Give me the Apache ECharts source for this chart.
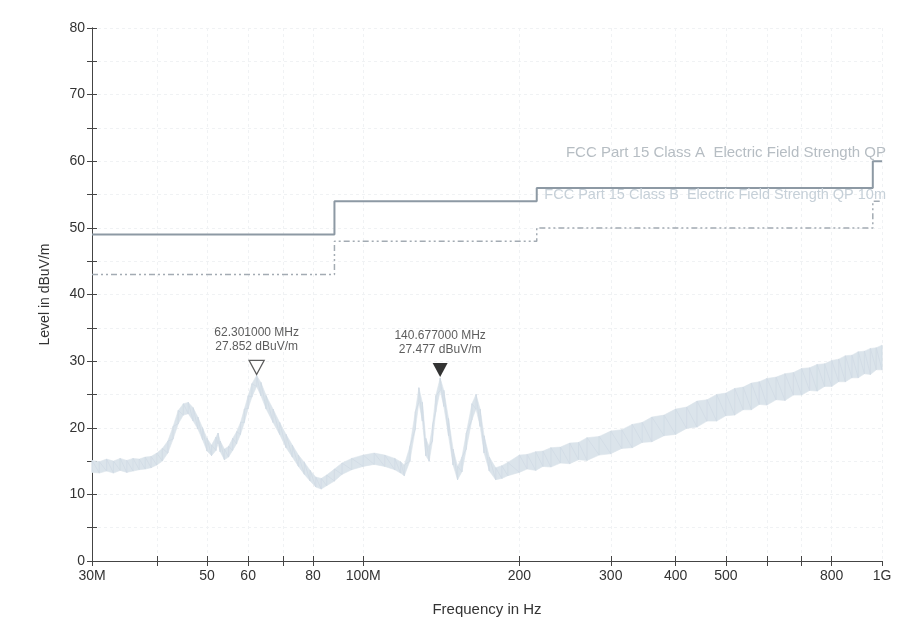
<!DOCTYPE html>
<html>
<head>
<meta charset="utf-8">
<script src="https://cdn.jsdelivr.net/npm/echarts@6/dist/echarts.min.js"></script>
<style>
  html, body { margin: 0; padding: 0; background: #fff; }
  #chart { width: 902px; height: 625px; }
</style>
</head>
<body>
<div id="chart"></div>
<script>
// measured trace (MHz / dBuV/m), lower and upper edge of the noisy band
const traceFreq = [30, 31, 32, 33, 34, 35, 36, 37, 38, 39, 40, 41, 42, 43, 44, 45, 46, 47, 48, 49,
  50, 51, 52, 52.5, 53, 54, 55, 56, 57, 58, 59, 60, 61, 62.3, 63.5, 65, 67, 69, 71, 73,
  75, 77, 79, 81, 83, 85, 88, 91, 95, 100, 105, 110, 115, 118, 120, 123, 126, 128, 130, 132,
  134, 136, 138, 140.7, 143, 146, 149, 152, 155, 158, 162, 165, 168, 171, 175, 180, 185, 190,
  200, 207, 215, 222, 230, 240, 250, 260, 270, 285, 300, 315, 330, 345, 360, 380, 400, 420, 440,
  460, 480, 500, 520, 540, 560, 580, 600, 625, 650, 675, 700, 725, 750, 775, 800, 825, 850, 875,
  900, 925, 950, 975, 1000];
const traceLow = [13.3, 13.2, 13.5, 13.2, 13.6, 13.3, 13.5, 13.7, 13.8, 14.0, 14.4, 15.0, 16.2, 18.3, 20.6, 21.9, 22.1, 21.0, 19.8, 18.2,
  16.5, 15.8, 16.6, 17.6, 16.4, 15.2, 15.6, 16.6, 17.6, 19.0, 20.8, 22.9, 24.6, 26.2, 24.8, 22.8, 20.8, 19.0, 17.0, 15.6,
  14.2, 13.0, 12.0, 11.1, 10.8, 11.3, 12.0, 13.0, 13.7, 14.2, 14.5, 14.2, 13.7, 13.2, 12.8, 15.0, 19.8, 23.8, 21.0, 15.8,
  15.0, 18.0, 22.4, 25.6, 23.2, 18.8, 14.4, 12.2, 13.4, 16.8, 21.2, 22.8, 20.2, 16.2, 13.5, 12.2, 12.4, 12.8,
  13.3, 13.8, 13.6, 14.2, 14.1, 14.7, 14.6, 15.2, 15.1, 15.9, 16.1, 16.9, 17.0, 17.8, 17.9, 18.8, 19.0, 19.9, 20.1,
  21.0, 21.0, 21.8, 21.9, 22.7, 22.7, 23.5, 23.4, 24.2, 24.1, 24.9, 24.9, 25.6, 25.5, 26.2, 26.2, 26.9, 26.9, 27.5,
  27.5, 28.1, 28.0, 28.7, 28.7];
const traceHigh = [15.1, 14.9, 15.3, 15.0, 15.4, 15.1, 15.4, 15.3, 15.6, 15.7, 16.2, 16.9, 18.0, 20.2, 22.6, 23.6, 23.8, 23.0, 21.6, 20.0,
  18.4, 17.4, 18.6, 19.2, 18.0, 16.8, 17.2, 18.4, 19.4, 20.8, 22.8, 24.8, 26.6, 27.85, 26.8, 24.8, 22.8, 20.8, 19.0, 17.4,
  15.9, 14.8, 13.6, 12.6, 12.4, 12.9, 13.8, 14.7, 15.4, 15.9, 16.2, 15.9, 15.4, 14.9, 14.4, 17.2, 22.4, 26.0, 23.8, 18.4,
  17.2, 20.4, 24.8, 27.48, 25.6, 21.4, 16.8, 14.2, 15.6, 19.2, 23.6, 25.0, 22.8, 18.8, 15.6, 14.0, 14.3, 14.8,
  15.9, 16.0, 16.4, 16.5, 17.0, 17.1, 17.7, 17.8, 18.5, 18.7, 19.5, 19.7, 20.5, 20.8, 21.6, 21.9, 22.8, 23.1, 24.0,
  24.2, 25.0, 25.2, 25.9, 26.1, 26.7, 26.9, 27.4, 27.6, 28.1, 28.3, 28.9, 29.0, 29.5, 29.6, 30.1, 30.3, 30.8, 30.9,
  31.4, 31.5, 31.9, 32.0, 32.4];

// FCC limit lines (step at each frequency)
const limitFreq = [30, 88, 216, 960, 1000];
const classA = [49, 54, 56, 60, 60];
const classB = [43, 48, 50, 54, 54];

// peak markers
const markerFreq = [62.301, 140.677];
const markerLevel = [27.852, 27.477];
const markerHollow = [true, false];

// axis ticks
const xTickFreq = [40, 50, 60, 70, 80, 100, 200, 300, 400, 500, 600, 700, 800];
const xLabelFreq = [30, 50, 60, 80, 100, 200, 300, 400, 500, 800, 1000];
const xLabelText = ['30M', '50', '60', '80', '100M', '200', '300', '400', '500', '800', '1G'];

const lg = f => Math.log10(f);
const FONT = '"Liberation Sans", Arial, sans-serif';

let zigzag = [];
traceFreq.forEach((f, i) => {
  zigzag.push([lg(f), traceLow[i]]);
  zigzag.push([lg(f), traceHigh[i]]);
});

function xLabel(v) {
  for (let i = 0; i < xLabelFreq.length; i++) {
    if (Math.abs(lg(xLabelFreq[i]) - v) < 1e-6) return xLabelText[i];
  }
  return '';
}

// band between low and high edge, one quad per segment
function renderBand(params, api) {
  let i = params.dataIndex;
  if (i >= traceFreq.length - 1) return;
  let pts = [
    api.coord([lg(traceFreq[i]), traceLow[i]]),
    api.coord([lg(traceFreq[i + 1]), traceLow[i + 1]]),
    api.coord([lg(traceFreq[i + 1]), traceHigh[i + 1]]),
    api.coord([lg(traceFreq[i]), traceHigh[i]]),
  ];
  return {
    type: 'polygon',
    shape: { points: pts },
    style: { fill: '#dbe4eb', stroke: '#dbe4eb', lineWidth: 0.6 },
  };
}

const xBase = {
  type: 'value',
  min: lg(30),
  max: lg(1000),
  axisLine: { lineStyle: { color: '#444', width: 1 } },
};
const yBase = {
  type: 'value',
  min: 0,
  max: 80,
  interval: 5,
  axisLine: { show: true, lineStyle: { color: '#444', width: 1 } },
};

let chart = echarts.init(document.getElementById('chart'))
chart.setOption({
  animation: false,
  backgroundColor: '#fff',
  grid: { left: 92, right: 20, top: 28, bottom: 64 },
  xAxis: [
    Object.assign({}, xBase, {
      name: 'Frequency in Hz',
      nameLocation: 'middle',
      nameGap: 41,
      nameTextStyle: { fontSize: 15, color: '#333', fontFamily: FONT },
      axisTick: { length: 5, lineStyle: { color: '#444' }, customValues: [lg(30)].concat(xTickFreq.map(lg), [lg(1000)]) },
      axisLabel: {
        customValues: xLabelFreq.map(lg),
        formatter: xLabel,
        fontSize: 14, color: '#333', fontFamily: FONT, margin: 8
      },
      splitLine: { show: true, lineStyle: { color: '#f0f2f4', type: [3, 3] } },
    }),
    Object.assign({}, xBase, {
      position: 'bottom',
      axisTick: { inside: true, length: 5, lineStyle: { color: '#444' }, customValues: xTickFreq.map(lg) },
      axisLabel: { show: false },
      splitLine: { show: false },
    }),
  ],
  yAxis: [
    Object.assign({}, yBase, {
      name: 'Level in dBuV/m',
      nameLocation: 'middle',
      nameGap: 40,
      nameTextStyle: { fontSize: 14, color: '#333', fontFamily: FONT },
      axisTick: { length: 5, lineStyle: { color: '#444' } },
      axisLabel: {
        formatter: v => (v % 10 === 0 ? String(v) : ''),
        fontSize: 14, color: '#333', fontFamily: FONT, margin: 7
      },
      splitLine: { show: true, lineStyle: { color: '#f0f2f4', type: [3, 3] } },
    }),
    Object.assign({}, yBase, {
      position: 'left',
      axisTick: { inside: true, length: 5, lineStyle: { color: '#444' } },
      axisLabel: { show: false },
      splitLine: { show: false },
    }),
  ],
  graphic: [
    {
      type: 'text', right: 16, top: 145, z: 10,
      style: { text: 'FCC Part 15 Class A  Electric Field Strength QP', fill: '#b6bdc3', font: '15px ' + FONT }
    },
    {
      type: 'text', right: 16, top: 187, z: 10,
      style: { text: 'FCC Part 15 Class B  Electric Field Strength QP 10m', fill: '#c6d0d8', font: '14.5px ' + FONT }
    },
  ],
  series: [
    {
      type: 'custom', silent: true,
      renderItem: renderBand,
      data: traceFreq.map((f, i) => [lg(f), traceLow[i], traceHigh[i]]),
    },
    {
      type: 'line', symbol: 'none', silent: true,
      lineStyle: { color: '#d0dbe4', width: 0.8 },
      data: zigzag,
    },
    {
      type: 'line', step: 'end', symbol: 'none',
      lineStyle: { color: '#8d99a4', width: 2 },
      data: limitFreq.map((f, i) => [lg(f), classA[i]]),
    },
    {
      type: 'line', step: 'end', symbol: 'none',
      lineStyle: { color: '#a3abb3', width: 1.5, type: [6, 3, 2, 3, 2, 3] },
      data: limitFreq.map((f, i) => [lg(f), classB[i]]),
    },
    {
      type: 'scatter',
      symbol: 'triangle',
      symbolRotate: 180,
      symbolSize: [15, 14],
      symbolOffset: [0, -8],
      z: 5,
      label: {
        show: true, position: 'top', distance: 6,
        fontSize: 12, lineHeight: 14, color: '#333', fontFamily: FONT,
      },
      data: markerFreq.map((f, i) => ({
        value: [lg(f), markerLevel[i]],
        itemStyle: markerHollow[i]
          ? { color: '#fff', borderColor: '#333', borderWidth: 1.3 }
          : { color: '#000' },
        label: { formatter: f.toFixed(6) + ' MHz\n' + markerLevel[i].toFixed(3) + ' dBuV/m' },
      })),
    },
  ],
});
</script>
</body>
</html>
